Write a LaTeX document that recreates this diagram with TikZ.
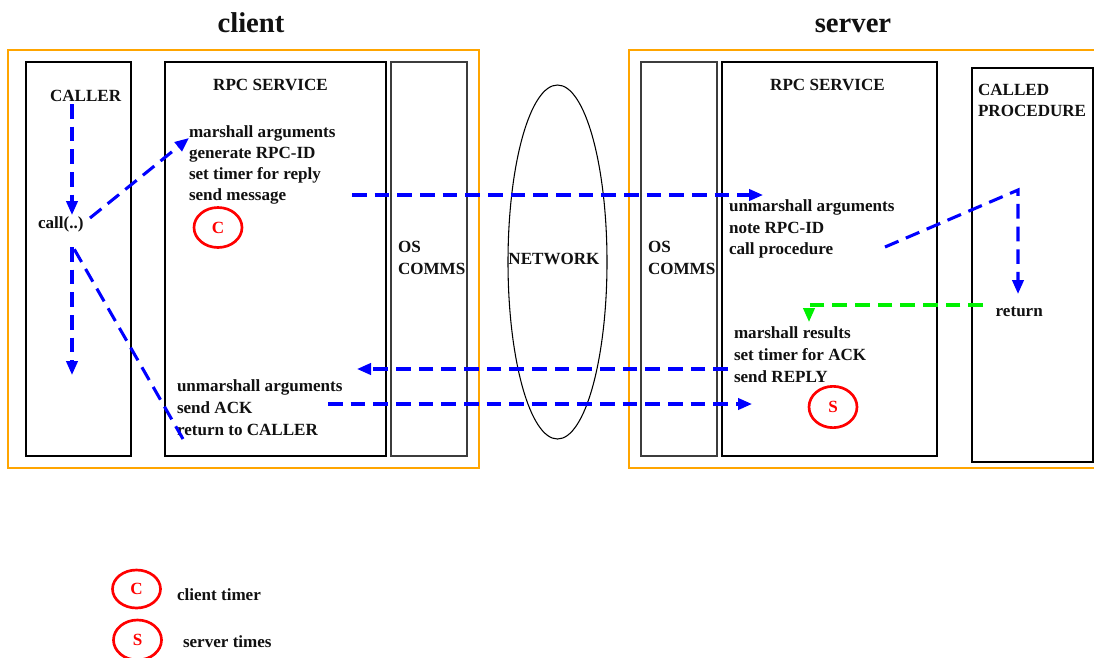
\documentclass[tikz,border=0pt]{standalone}
\usepackage{fontspec}
\setmainfont{Liberation Serif}
\usetikzlibrary{arrows.meta,shapes.geometric}

\definecolor{frameorange}{RGB}{255,165,0}
\definecolor{flowblue}{RGB}{0,0,255}
\definecolor{flowgreen}{RGB}{0,240,0}
\definecolor{timerred}{RGB}{255,0,0}
\definecolor{boxgrey}{RGB}{60,60,60}
\definecolor{inkblack}{RGB}{17,17,17}

\begin{document}
\begin{tikzpicture}[x=0.75pt,y=-0.75pt,
  every node/.style={inner sep=0pt,outer sep=0pt},
  lbl/.style={font=\fontsize{12.8}{15}\selectfont\bfseries,text=inkblack,anchor=base west},
  lblc/.style={lbl,anchor=base},
  title/.style={font=\fontsize{21.5}{26}\selectfont\bfseries,text=inkblack,anchor=base},
  group/.style={draw=frameorange,line width=2pt},
  layer/.style={draw=black,line width=0.9pt},
  oslayer/.style={draw=boxgrey,line width=0.9pt},
  timer/.style={draw=timerred,line width=2pt,ellipse,minimum width=36pt,minimum height=30pt,
    text=timerred,font=\fontsize{12.8}{15}\selectfont\bfseries},
  flow/.style={draw=flowblue,line width=2.3pt,dash pattern=on 11pt off 6pt,
    -{Triangle[length=10.5pt,width=8.5pt]}},
  flowline/.style={draw=flowblue,line width=2.3pt,dash pattern=on 11pt off 6pt},
  backflow/.style={flow,draw=flowgreen}
]
\clip (0,0) rectangle (1094,657);
\fill[white] (0,0) rectangle (1094,657);

% titles
\node[title] (tclient) at (251,32) {client};
\node[title] (tserver) at (853,32) {server};

% client side frames
\draw[group] (8,50) rectangle (479,468);
\draw[layer] (26,62) rectangle (131,456);
\draw[layer] (165,62) rectangle (386,456);
\draw[oslayer] (391,62) rectangle (467,456);

% server side frames
\draw[group] (629,50) rectangle (1110,468);
\draw[oslayer] (641,62) rectangle (717,456);
\draw[layer] (722,62) rectangle (937,456);
\draw[layer] (972,68) rectangle (1093,462);

% network
\node[draw=black,line width=0.8pt,ellipse,minimum width=74.25pt,minimum height=265.5pt] (net) at (557.5,262) {};
\node[lblc] (netlbl) at (554,264) {NETWORK};

% client texts
\node[lbl] (caller) at (50,101.5) {CALLER};
\node[lbl] (call) at (38,228) {call(..)};
\node[lblc] (crpc) at (270.5,90) {RPC SERVICE};
\foreach \t [count=\i] in {marshall arguments,generate RPC-ID,set timer for reply,send message}
  \node[lbl] (cm\i) at (189,137+21.3*\i-21.3) {\t};
\foreach \t [count=\i] in {unmarshall arguments,send ACK,return to CALLER}
  \node[lbl] (cu\i) at (177,391+22*\i-22) {\t};
\node[lbl] (cos1) at (398,252) {OS};
\node[lbl] (cos2) at (398,274) {COMMS};
\node[timer] (ctimer) at (218,227.5) {C};

% server texts
\node[lblc] (srpc) at (827.5,90) {RPC SERVICE};
\foreach \t [count=\i] in {unmarshall arguments,note RPC-ID,call procedure}
  \node[lbl] (su\i) at (729,211.7+21.3*\i-21.3) {\t};
\foreach \t [count=\i] in {marshall results,set timer for ACK,send REPLY}
  \node[lbl] (sm\i) at (734,338.3+22.2*\i-22.2) {\t};
\node[lbl] (sos1) at (648,252.5) {OS};
\node[lbl] (sos2) at (648,274) {COMMS};
\node[lbl] (cp1) at (978,95) {CALLED};
\node[lbl] (cp2) at (978,116.7) {PROCEDURE};
\node[lbl] (ret) at (995.7,316) {return};
\node[timer,minimum height=31pt] (stimer) at (833,407) {S};

% legend
\node[timer,minimum height=28.5pt] (lc) at (136.5,589) {C};
\node[lbl] (lctext) at (177,600) {client timer};
\node[timer] (ls) at (137.5,640) {S};
\node[lbl] (lstext) at (183,647) {server times};

% flow end points
\coordinate (f1a) at (72,104);   \coordinate (f1b) at (72,215);
\coordinate (f2a) at (90,218);   \coordinate (f2b) at (189,138);
\coordinate (f3a) at (352,195);  \coordinate (f3b) at (763,195);
\coordinate (f4a) at (885,247);  \coordinate (f4c) at (1018,190); \coordinate (f4b) at (1018,294);
\coordinate (f5a) at (983,305);  \coordinate (f5c) at (809,305);  \coordinate (f5b) at (809,322);
\coordinate (f6a) at (728,369);  \coordinate (f6b) at (357,369);
\coordinate (f7a) at (328,404);  \coordinate (f7b) at (752,404);
\coordinate (f8a) at (72,247);   \coordinate (f8b) at (72,375);
\coordinate (f9a) at (183,439);  \coordinate (f9b) at (73,247);

% call flow
\draw[flow] (f1a) -- (f1b);
\draw[flow] (f2a) -- (f2b);
\draw[flow] (f3a) -- (f3b);
\draw[flow] (f4a) -- (f4c) -- (f4b);
\draw[backflow] (f5a) -- (f5c) -- (f5b);
\draw[flow] (f6a) -- (f6b);
\draw[flow] (f7a) -- (f7b);
\draw[flow] (f8a) -- (f8b);
\draw[flowline] (f9a) -- (f9b);
\end{tikzpicture}
\end{document}
